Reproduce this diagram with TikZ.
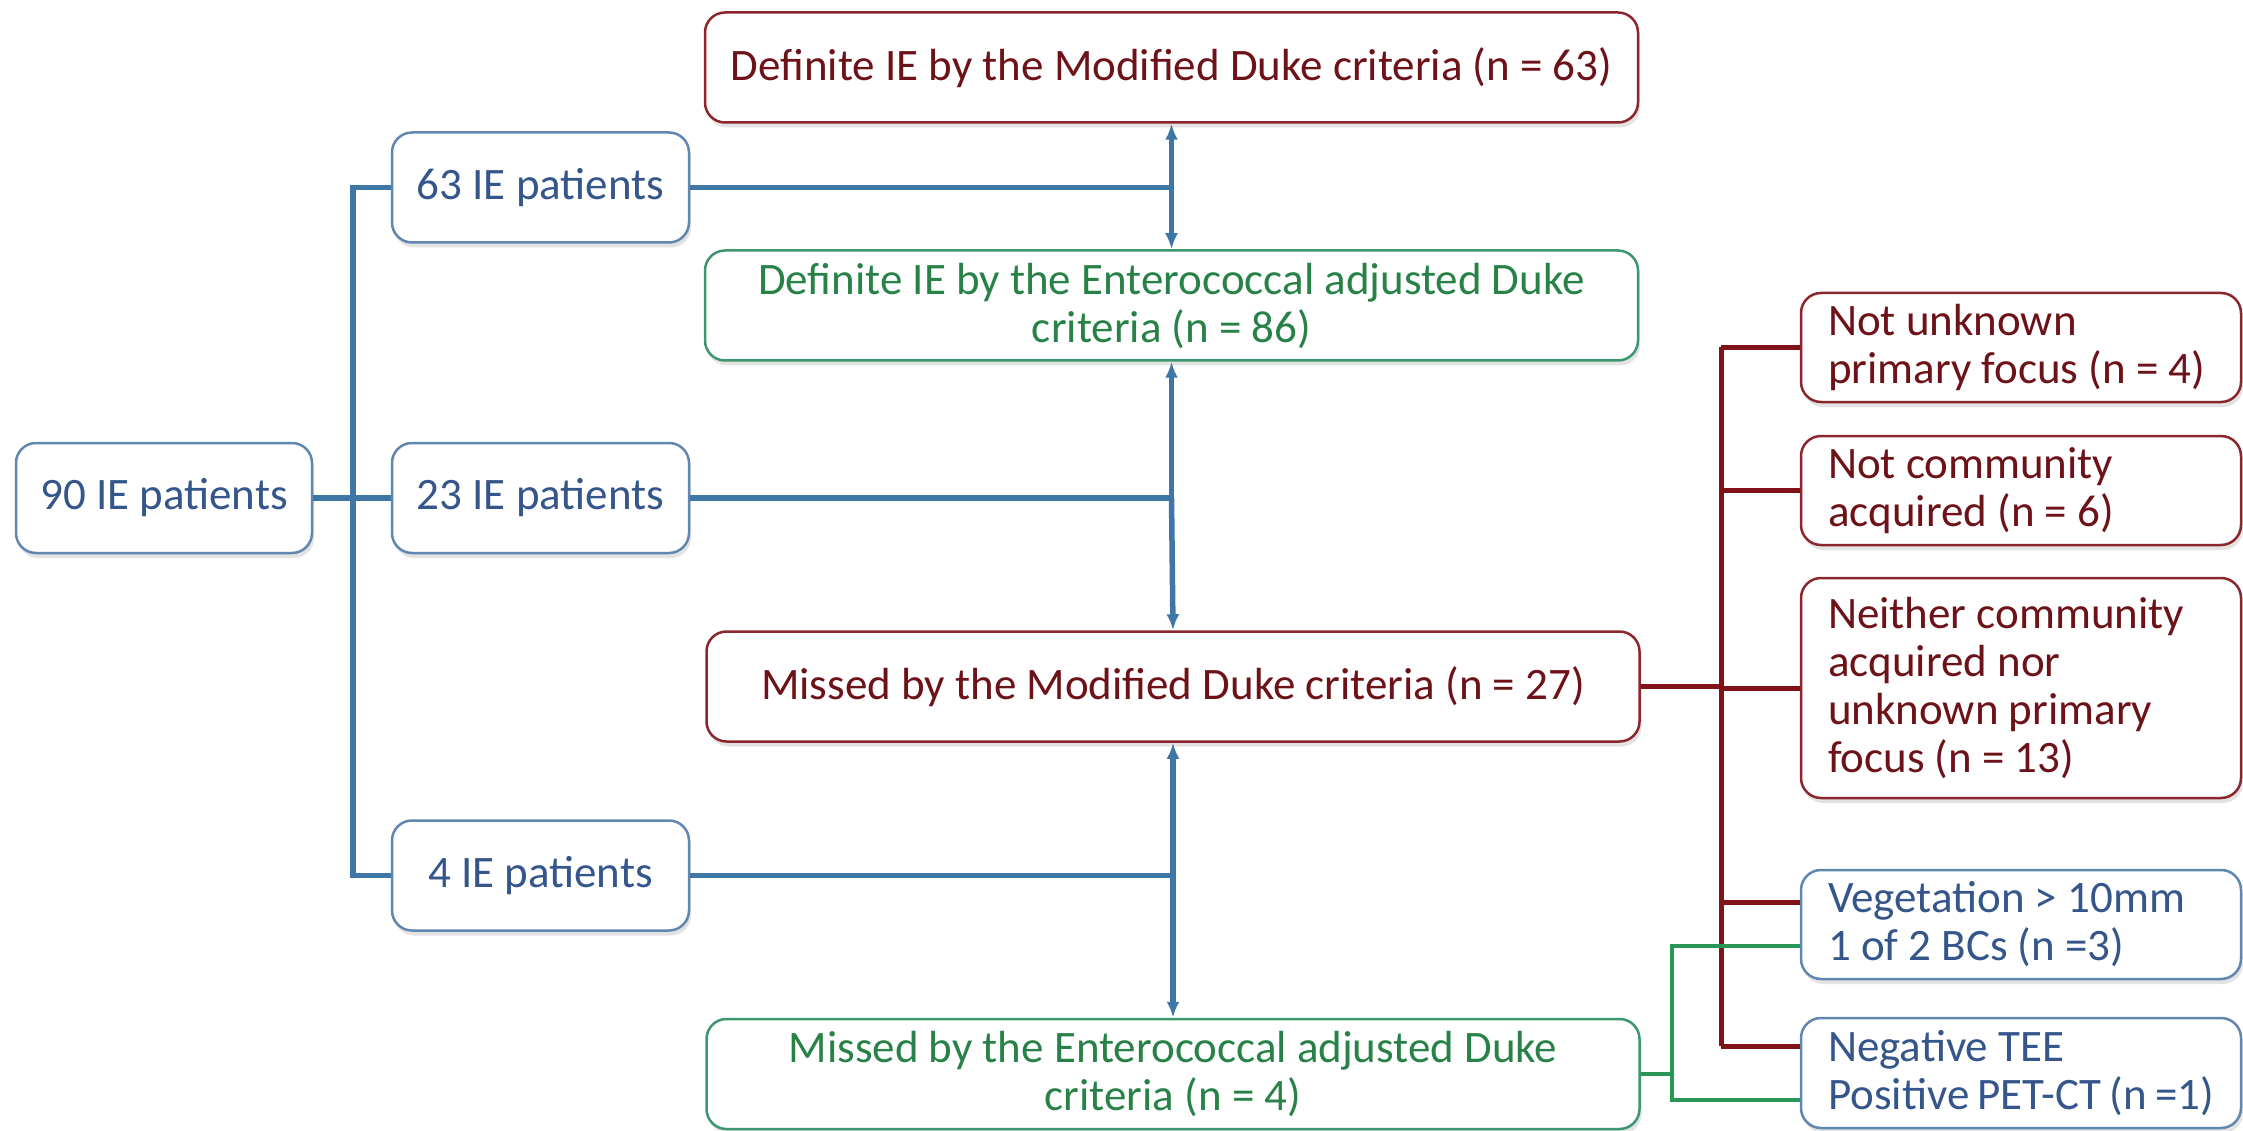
\documentclass[tikz,border=0pt]{standalone}
\usepackage{fontspec}
\setmainfont{Carlito}
\usetikzlibrary{arrows.meta,shadows,calc}
\definecolor{blin}{RGB}{62,118,168}
\definecolor{bbor}{RGB}{95,135,175}
\definecolor{btxt}{RGB}{52,86,138}
\definecolor{rbor}{RGB}{140,38,45}
\definecolor{rtxt}{RGB}{108,18,24}
\definecolor{rlin}{RGB}{128,18,24}
\definecolor{gbor}{RGB}{60,150,110}
\definecolor{gtxt}{RGB}{40,130,72}
\definecolor{glin}{RGB}{40,150,85}
\begin{document}
\begin{tikzpicture}[x=1pt,y=-1pt,
  box/.style={draw, rounded corners=20pt, line width=2.5pt, fill=white, inner sep=0pt,
    align=center, font=\fontsize{45}{48}\selectfont,
    drop shadow={shadow xshift=2pt, shadow yshift=-5pt, opacity=0.18, fill=black!60}},
  bbox/.style={box, draw=bbor, text=btxt},
  rbox/.style={box, draw=rbor, text=rtxt},
  gbox/.style={box, draw=gbor, text=gtxt},
  wide/.style={minimum width=933pt, minimum height=110pt},
  small/.style={minimum width=297pt, minimum height=110pt},
  side/.style={minimum width=440pt, text width=386pt, align=flush left},
  bline/.style={draw=blin, line width=5.5pt},
  barrow/.style={bline, -{Latex[length=16pt,width=13pt]}},
  rline/.style={draw=rlin, line width=5pt},
  gline/.style={draw=glin, line width=4pt}]
\useasboundingbox (0,0) rectangle (2243,1131);
% coordinates for trunks
\coordinate (trunk) at (353,0);
\coordinate (rt) at (1721,0);
\coordinate (gt) at (1672,0);
% central boxes
\node[rbox, wide] (top) at (1171.5,67.5) {Definite IE by the Modified Duke criteria (n = 63)};
\node[gbox, wide] (ent) at (1171.5,305.5) {Definite IE by the Enterococcal adjusted Duke\\criteria (n = 86)};
\node[rbox, wide] (mm) at (1173,686.5) {Missed by the Modified Duke criteria (n = 27)};
\node[gbox, wide] (me) at (1173,1074) {Missed by the Enterococcal adjusted Duke\\criteria (n = 4)};
% left boxes
\node[bbox, small, minimum width=296pt] (p90) at (164,498) {90 IE patients};
\node[bbox, small] (p63) at (540.5,187.5) {63 IE patients};
\node[bbox, small] (p23) at (540.5,498) {23 IE patients};
\node[bbox, small] (p4) at (540.5,875.5) {4 IE patients};
% right boxes
\node[rbox, side, minimum height=109pt] (r1) at (2021,347.5) {Not~unknown\\primary~focus~(n~=~4)};
\node[rbox, side, minimum height=109pt] (r2) at (2021,490.5) {Not~community\\acquired~(n~=~6)};
\node[rbox, side, minimum height=220pt] (r3) at (2021,688) {Neither~community\\acquired~nor\\unknown~primary\\focus~(n~=~13)};
\node[bbox, side, minimum height=109pt] (r4) at (2021,924.5) {Vegetation~>~10mm\\1~of~2~BCs~(n~=3)};
\node[bbox, side, minimum height=110pt] (r5) at (2021,1073) {Negative~TEE\\Positive~PET-CT~(n~=1)};
\coordinate (r4r) at ($(r4.west)+(0,-22)$);
\coordinate (r4g) at ($(r4.west)+(0,21)$);
\coordinate (r5r) at ($(r5.west)+(0,-27)$);
\coordinate (r5g) at ($(r5.west)+(0,27)$);
% blue tree
\draw[bline] (p63.west) -- (p63.west -| trunk) -- (p4.west -| trunk) -- (p4.west);
\draw[bline] (p90.east) -- (p23.west);
\coordinate (j1) at (p63.east -| top.south);
\coordinate (j2) at (p23.east -| ent.south);
\coordinate (j3) at (p4.east -| mm.south);
\draw[bline] (p63.east) -- (j1);
\draw[barrow] (j1) -- (top.south);
\draw[barrow] (j1) -- (ent.north);
\draw[bline] (p23.east) -- (j2);
\draw[barrow] (j2) -- (ent.south);
\draw[barrow] (j2) -- (mm.north);
\draw[bline] (p4.east) -- (j3);
\draw[barrow] (j3) -- (mm.south);
\draw[barrow] (j3) -- (me.north);
% red tree
\draw[rline] (mm.east) -- (mm.east -| rt);
\draw[rline] (rt |- r1.west) -- (rt |- r5r);
\draw[rline] (rt |- r1.west) -- (r1.west);
\draw[rline] (rt |- r2.west) -- (r2.west);
\draw[rline] (rt |- r3.west) -- (r3.west);
\draw[rline] (rt |- r4r) -- (r4r);
\draw[rline] (rt |- r5r) -- (r5r);
% green tree
\draw[gline] (me.east) -- (me.east -| gt);
\draw[gline] (r4g) -- (gt |- r4g) -- (gt |- r5g) -- (r5g);
\end{tikzpicture}
\end{document}
